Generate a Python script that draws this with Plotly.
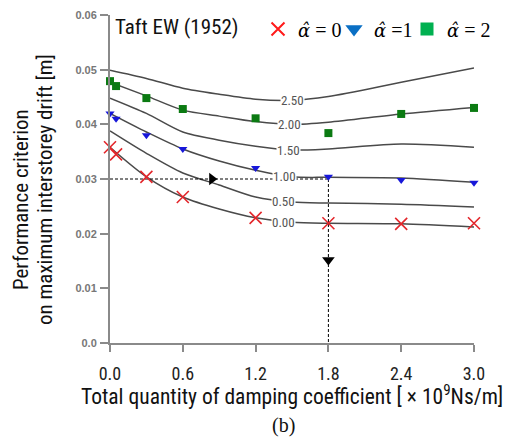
import plotly.graph_objects as go

# ---- data ----
x_pts = [0.0, 0.05, 0.3, 0.6, 1.2, 1.8, 2.4, 3.0]
alpha0 = [0.0358, 0.0345, 0.0304, 0.0267, 0.0229, 0.0219, 0.0218, 0.0219]
alpha1 = [0.0420, 0.0410, 0.0380, 0.0355, 0.0320, 0.0304, 0.0298, 0.0293]
alpha2 = [0.0479, 0.0470, 0.0448, 0.0428, 0.0411, 0.0384, 0.0419, 0.0430]

contour_x = [0.0, 0.3, 0.6, 0.9, 1.2, 1.5, 1.8, 2.4, 3.0]
c250 = [0.0499, 0.0484, 0.0466, 0.0455, 0.0446, 0.0444, 0.0451, 0.0477, 0.0503]
c200 = [0.0477, 0.0452, 0.0426, 0.0415, 0.0405, 0.0400, 0.0404, 0.0419, 0.0431]
c150 = [0.0448, 0.0420, 0.0386, 0.0371, 0.0360, 0.0353, 0.0355, 0.0364, 0.0358]
c100 = [0.0420, 0.0386, 0.0355, 0.0333, 0.0316, 0.0304, 0.0303, 0.0302, 0.0294]
c050 = [0.0388, 0.0347, 0.0311, 0.0289, 0.0267, 0.0258, 0.0256, 0.0254, 0.0249]
c000 = [0.0358, 0.0304, 0.0267, 0.0245, 0.0229, 0.0221, 0.0219, 0.0218, 0.0212]
contour_labels = ["2.50", "2.00", "1.50", "1.00", "0.50", "0.00"]
contour_label_x = [1.50, 1.48, 1.47, 1.44, 1.43, 1.43]
contour_label_y = [0.0444, 0.0400, 0.0353, 0.0304, 0.0258, 0.0221]

guide_h_x = [0.0, 1.8]
guide_h_y = [0.03, 0.03]
guide_v_x = [1.8, 1.8]
guide_v_y = [0.03, 0.0]
arrow_right = (0.84, 0.03)
arrow_down = (1.8, 0.0152)

x_ticks = [0.0, 0.6, 1.2, 1.8, 2.4, 3.0]
x_ticklabels = ["0.0", "0.6", "1.2", "1.8", "2.4", "3.0"]
y_ticks = [0.0, 0.01, 0.02, 0.03, 0.04, 0.05, 0.06]
y_ticklabels = ["0.0", "0.01", "0.02", "0.03", "0.04", "0.05", "0.06"]

NARROW = "Roboto Condensed, Liberation Sans Narrow, Arial Narrow, sans-serif"
SERIF = "Liberation Serif, Times New Roman, serif"

W, H = 505, 444
L, R, T, B = 110, 31, 15, 101
PW, PH = W - L - R, H - T - B


def px2paper(px, py):
    return (px - L) / PW, 1 - (py - T) / PH


fig = go.Figure()

for cy in [c250, c200, c150, c100, c050, c000]:
    fig.add_trace(go.Scatter(x=contour_x, y=cy, mode="lines",
                             line=dict(color="#4a4a4a", width=1.5, shape="spline", smoothing=0.8),
                             showlegend=False, hoverinfo="skip", cliponaxis=False))

# guide lines
fig.add_trace(go.Scatter(x=guide_h_x, y=guide_h_y, mode="lines", line=dict(color="black", width=1, dash="3px,2px"),
                         showlegend=False, cliponaxis=False))
fig.add_trace(go.Scatter(x=guide_v_x, y=guide_v_y, mode="lines", line=dict(color="black", width=1, dash="3px,2px"),
                         showlegend=False, cliponaxis=False))
fig.add_trace(go.Scatter(x=[arrow_right[0]], y=[arrow_right[1]], mode="markers",
                         marker=dict(symbol="triangle-right", size=11, color="black"), showlegend=False))
fig.add_trace(go.Scatter(x=[arrow_down[0]], y=[arrow_down[1]], mode="markers",
                         marker=dict(symbol="triangle-down", size=11, color="black"), showlegend=False))

# data markers
fig.add_trace(go.Scatter(x=x_pts, y=alpha0, mode="markers",
                         marker=dict(symbol="x-thin", size=12, line=dict(color="#e3262b", width=1.6)),
                         showlegend=False, cliponaxis=False))
fig.add_trace(go.Scatter(x=x_pts, y=alpha1, mode="markers",
                         marker=dict(symbol="triangle-down", size=8, color="#1717d9"), showlegend=False, cliponaxis=False))
fig.add_trace(go.Scatter(x=x_pts, y=alpha2, mode="markers",
                         marker=dict(symbol="square", size=8, color="#0b7a12"), showlegend=False, cliponaxis=False))

# legend-only entries (one legend each for exact placement)
hat = "<span style='font-family:DejaVu Serif;font-size:18px'><i>α̂</i></span>"
fig.add_trace(go.Scatter(x=[None], y=[None], mode="markers", name=hat + " = 0", legend="legend",
                         marker=dict(symbol="x-thin", size=13, line=dict(color="#ff1a1a", width=2))))
fig.add_trace(go.Scatter(x=[None], y=[None], mode="markers", name=hat + " =1", legend="legend2",
                         marker=dict(symbol="triangle-down", size=15, color="#0a6fc4")))
fig.add_trace(go.Scatter(x=[None], y=[None], mode="markers", name=hat + " = 2", legend="legend3",
                         marker=dict(symbol="square", size=13, color="#00b050")))

annotations = []
for lab, lx, ly in zip(contour_labels, contour_label_x, contour_label_y):
    annotations.append(dict(x=lx, y=ly, xref="x", yref="y", text=lab, showarrow=False,
                            font=dict(family=NARROW, size=13, color="#555555"), bgcolor="white", borderpad=0))

texts = [
    # text, px, py, angle, family, size, xanchor
    ("Taft EW (1952)", 113, 27, 0, NARROW, 21, "left"),
    ("Performance criterion", 21, 200, -90, NARROW, 21, "center"),
    ("on maximum interstorey drift [m]", 45, 190, -90, NARROW, 21, "center"),
    ("Total quantity of damping coefficient [ × 10<sup>9</sup>Ns/m]", 292, 395, 0, NARROW, 21.5, "center"),
    ("(b)", 283, 426, 0, SERIF, 20, "center"),
]
for text, px, py, ang, fam, sz, xa in texts:
    ax, ay = px2paper(px, py)
    annotations.append(dict(x=ax, y=ay, xref="paper", yref="paper", text=text, showarrow=False, textangle=ang,
                            xanchor=xa, yanchor="middle", font=dict(family=fam, size=sz, color="#111111")))


def leg(px):
    lx, ly = px2paper(px, 29)
    return dict(orientation="h", x=lx, y=ly, xref="paper", yref="paper", xanchor="left", yanchor="middle",
                font=dict(family=SERIF, size=20, color="black"), bgcolor="rgba(0,0,0,0)", itemwidth=30)


fig.update_layout(
    width=W, height=H,
    margin=dict(l=L, r=R, t=T, b=B, autoexpand=False),
    paper_bgcolor="white", plot_bgcolor="white",
    showlegend=True,
    legend=leg(258), legend2=leg(334), legend3=leg(407),
    xaxis=dict(range=[0, 3.0], tickvals=x_ticks, ticktext=x_ticklabels, showgrid=False, zeroline=False,
               showline=True, linecolor="#8a8a8a", linewidth=2, ticks="outside", ticklen=7, tickwidth=2,
               tickcolor="#8a8a8a", tickfont=dict(family=NARROW, size=18, color="#222222"), ticklabelstandoff=6),
    yaxis=dict(range=[0, 0.06], tickvals=y_ticks, ticktext=y_ticklabels, showgrid=False, zeroline=False,
               showline=True, linecolor="#8a8a8a", linewidth=2, ticks="outside", ticklen=8, tickwidth=2,
               tickcolor="#8a8a8a",
               tickfont=dict(family="Liberation Sans, Arial, sans-serif", size=11, color="#777777", weight="bold"),
               ticklabelstandoff=1),
    annotations=annotations,
)

fig.write_html("out.html")
